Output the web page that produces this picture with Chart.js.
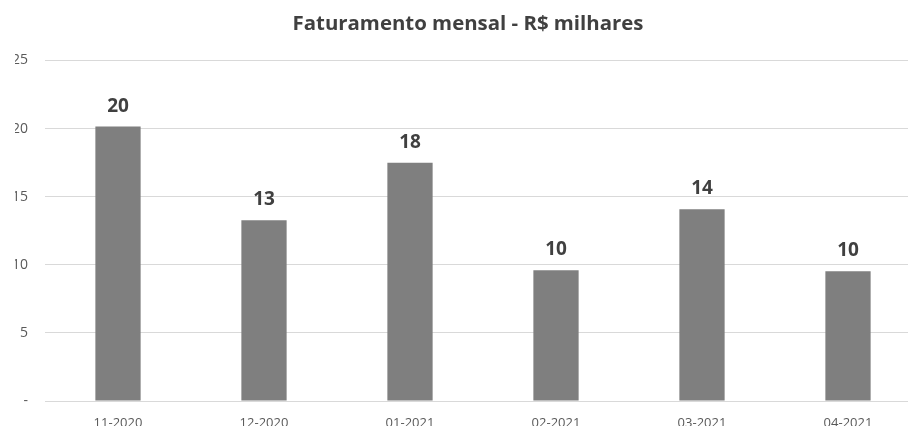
<!DOCTYPE html>
<html>
<head>
<meta charset="utf-8">
<script src="https://cdn.jsdelivr.net/npm/chart.js@4.4.0/dist/chart.umd.min.js"></script>
<style>
  html, body { margin:0; padding:0; background:#fff; overflow:hidden; }
  #wrap { width:936px; height:440px; }
</style>
</head>
<body>
<div id="wrap"><canvas id="c" width="936" height="440"></canvas></div>
<script>
// ── DATA ──────────────────────────────────────────────
const months  = ['11-2020', '12-2020', '01-2021', '02-2021', '03-2021', '04-2021'];
const revenue = [20.15, 13.27, 17.5, 9.6, 14.08, 9.53];
const yTicks  = [0, 5, 10, 15, 20, 25];

const FONT = "'Open Sans', sans-serif";

// value labels above bars
const barLabels = {
  id: 'barLabels',
  afterDatasetsDraw(chart) {
    const ctx = chart.ctx;
    const meta = chart.getDatasetMeta(0);
    ctx.save();
    ctx.font = `bold 19px ${FONT}`;
    ctx.fillStyle = '#404040';
    ctx.textAlign = 'center';
    ctx.textBaseline = 'alphabetic';
    meta.data.forEach((bar, i) => {
      ctx.fillText(String(Math.round(revenue[i])), bar.x, bar.y - 15);
    });
    ctx.restore();
  }
};

new Chart(document.getElementById('c').getContext('2d'), {
  type: 'bar',
  data: {
    labels: months,
    datasets: [{
      data: revenue, backgroundColor: '#7f7f7f', borderWidth: 0,
      barPercentage: 0.31, categoryPercentage: 1,
    }],
  },
  options: {
    responsive: false, animation: false,
    layout: { padding: { left: 15, right: 15, top: 0, bottom: 0 } },
    plugins: {
      legend: { display: false },
      tooltip: { enabled: false },
      title: {
        display: true, text: 'Faturamento mensal - R$ milhares',
        color: '#404040', font: { family: FONT, size: 20.4, weight: 'bold', lineHeight: 1.2 },
        padding: { top: 12, bottom: 24 },
      },
    },
    scales: {
      x: {
        grid: { display: false, drawTicks: false }, border: { display: false },
        ticks: { color: '#595959', font: { family: FONT, size: 13 }, padding: 14, maxRotation: 0 },
        afterFit: s => { s.height = 39; },
      },
      y: {
        min: 0, max: 25,
        afterBuildTicks: s => { s.ticks = yTicks.map(v => ({ value: v })); },
        grid: { color: '#d9d9d9', drawTicks: false }, border: { display: false },
        ticks: { color: '#595959', font: { family: FONT, size: 14 }, padding: 17,
                 callback: v => v === 0 ? '-' : v },
        afterFit: s => { s.width = 30; },
      },
    },
  },
  plugins: [barLabels],
});
</script>
</body>
</html>
